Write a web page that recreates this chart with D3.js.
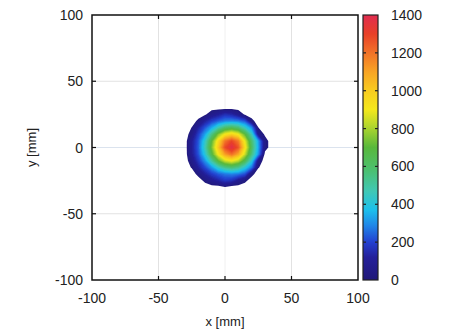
<!DOCTYPE html>
<html>
<head>
<meta charset="utf-8">
<script src="https://cdn.jsdelivr.net/npm/d3@7"></script>
<style>
  body { margin: 0; background: #fff; }
  text { font-family: "Liberation Sans", Arial, sans-serif; fill: #222; }
</style>
</head>
<body>
<script>
const xGrid = [-35, -30, -25, -20, -15, -10, -5, 0, 5, 10, 15, 20, 25, 30, 35, 40];
const yGrid = [35, 30, 25, 20, 15, 10, 5, 0, -5, -10, -15, -20, -25, -30, -35];
const intensity = [
  [0, 0, 0, 0, 0, 0, 0, 0, 0, 0, 0, 0, 0, 0, 0, 0],
  [0, 0, 0, 0, 0, 0, 0, 0, 0, 0, 0, 0, 0, 0, 0, 0],
  [0, 0, 0, 0, 20, 80, 120, 170, 150, 90, 20, 0, 0, 0, 0, 0],
  [0, 0, 0, 45, 130, 200, 250, 290, 300, 285, 235, 50, 0, 0, 0, 0],
  [0, 0, 32, 140, 240, 350, 490, 600, 640, 590, 455, 310, 32, 0, 0, 0],
  [0, 0, 60, 200, 340, 550, 760, 920, 980, 905, 712, 468, 90, 20, 0, 0],
  [0, 0, 115, 240, 440, 710, 969, 1200, 1300, 1190, 895, 596, 336, 60, 0, 0],
  [0, 0, 120, 250, 470, 750, 1019, 1290, 1390, 1270, 947, 628, 349, 60, 0, 0],
  [0, 0, 110, 235, 420, 680, 924, 1120, 1220, 1100, 853, 567, 322, 10, 0, 0],
  [0, 0, 70, 190, 320, 515, 715, 860, 915, 840, 660, 430, 80, 0, 0, 0],
  [0, 0, 35, 130, 220, 320, 450, 550, 590, 540, 415, 280, 35, 0, 0, 0],
  [0, 0, 0, 50, 130, 195, 245, 280, 295, 280, 230, 50, 0, 0, 0, 0],
  [0, 0, 0, 0, 45, 95, 140, 187, 170, 95, 45, 0, 0, 0, 0, 0],
  [0, 0, 0, 0, 0, 0, 0, 25, 0, 0, 0, 0, 0, 0, 0, 0],
  [0, 0, 0, 0, 0, 0, 0, 0, 0, 0, 0, 0, 0, 0, 0, 0]
];
const axisTicks = [-100, -50, 0, 50, 100];
const gridLines = [-50, 0, 50];
const colorTicks = [0, 200, 400, 600, 800, 1000, 1200, 1400];
const xTitle = 'x [mm]', yTitle = 'y [mm]';

const W = 457, H = 332;
const pL = 92, pR = 358, pT = 15, pB = 280;
const cbX = 363, cbW = 15;

// jet-like palette of the colour bar
const palVals = [0, 120, 200, 290, 370, 470, 580, 700, 820, 900, 1000, 1100, 1200, 1300, 1400];
const palCols = ['#201878', '#24209a', '#2440d0', '#2088e8', '#1cc0ec', '#40c8b4', '#4cc070', '#58b83c',
                 '#b8d82c', '#f4e81c', '#f8cc20', '#f8a424', '#f27228', '#e84028', '#e02c50'];
const color = d3.scaleLinear().domain(palVals).range(palCols).clamp(true);

const svg = d3.select('body').append('svg')
  .attr('width', W)
  .attr('height', H);

const xScale = d3.scaleLinear().domain([-100, 100]).range([pL, pR]);
const yScale = d3.scaleLinear().domain([-100, 100]).range([pB, pT]);
const cScale = d3.scaleLinear().domain([0, 1400]).range([pB, pT]);

// light grid
svg.append('g').selectAll('line')
  .data(gridLines).enter().append('line')
  .attr('x1', d => xScale(d)).attr('x2', d => xScale(d))
  .attr('y1', pT).attr('y2', pB)
  .attr('stroke', d => d === 0 ? '#f0f0f0' : '#e2e2e2');
svg.append('g').selectAll('line')
  .data(gridLines).enter().append('line')
  .attr('y1', d => yScale(d)).attr('y2', d => yScale(d))
  .attr('x1', pL).attr('x2', pR)
  .attr('stroke', d => d === 0 ? '#dbe3ee' : '#e2e2e2');

// filled contours
const nx = xGrid.length, ny = yGrid.length;
const flat = [].concat(...intensity);
const gxToMm = d3.scaleLinear().domain([0.5, nx - 0.5]).range([xGrid[0], xGrid[nx - 1]]);
const gyToMm = d3.scaleLinear().domain([0.5, ny - 0.5]).range([yGrid[0], yGrid[ny - 1]]);
const proj = d3.geoTransform({
  point: function(x, y) { this.stream.point(xScale(gxToMm(x)), yScale(gyToMm(y))); }
});
const path = d3.geoPath(proj);
const levels = d3.range(30, 1400, 20);
const contours = d3.contours().size([nx, ny]).thresholds(levels)(flat);

const defs = svg.append('defs');
defs.append('filter').attr('id', 'soft')
  .append('feGaussianBlur').attr('stdDeviation', 0.6);

svg.append('g')
  .attr('filter', 'url(#soft)')
  .selectAll('path')
  .data(contours).enter().append('path')
  .attr('d', path)
  .attr('fill', d => color(d.value));

// frame and inward ticks
svg.append('rect')
  .attr('x', pL).attr('y', pT)
  .attr('width', pR - pL).attr('height', pB - pT)
  .attr('fill', 'none').attr('stroke', '#111').attr('stroke-width', 1.5);

const tk = svg.append('g').attr('stroke', '#111').attr('stroke-width', 1.2);
gridLines.forEach(v => {
  tk.append('line').attr('x1', xScale(v)).attr('x2', xScale(v)).attr('y1', pB).attr('y2', pB - 4);
  tk.append('line').attr('x1', xScale(v)).attr('x2', xScale(v)).attr('y1', pT).attr('y2', pT + 4);
  tk.append('line').attr('y1', yScale(v)).attr('y2', yScale(v)).attr('x1', pL).attr('x2', pL + 4);
  tk.append('line').attr('y1', yScale(v)).attr('y2', yScale(v)).attr('x1', pR).attr('x2', pR - 4);
});

// tick labels
svg.append('g').selectAll('text')
  .data(axisTicks).enter().append('text')
  .attr('x', d => xScale(d))
  .attr('y', pB + 23)
  .attr('text-anchor', 'middle')
  .attr('font-size', 14)
  .text(d => d);
svg.append('g').selectAll('text')
  .data(axisTicks).enter().append('text')
  .attr('x', pL - 9)
  .attr('y', d => yScale(d) + 5)
  .attr('text-anchor', 'end')
  .attr('font-size', 14)
  .text(d => d);

svg.append('text')
  .attr('x', (pL + pR) / 2).attr('y', H - 6)
  .attr('text-anchor', 'middle').attr('font-size', 13)
  .text(xTitle);
svg.append('text')
  .attr('transform', `translate(36, ${(pT + pB) / 2}) rotate(-90)`)
  .attr('text-anchor', 'middle').attr('font-size', 13)
  .text(yTitle);

// colour bar
const grad = defs.append('linearGradient').attr('id', 'cb')
  .attr('x1', 0).attr('y1', 1).attr('x2', 0).attr('y2', 0);
palVals.forEach((v, i) => {
  grad.append('stop').attr('offset', v / 1400).attr('stop-color', palCols[i]);
});
svg.append('rect')
  .attr('x', cbX).attr('y', pT)
  .attr('width', cbW).attr('height', pB - pT)
  .attr('fill', 'url(#cb)')
  .attr('stroke', '#222').attr('stroke-width', 1.2);

const ctk = svg.append('g').attr('stroke', '#222').attr('stroke-width', 1.2);
colorTicks.slice(1, -1).forEach(v => {
  ctk.append('line').attr('x1', cbX).attr('x2', cbX + 3).attr('y1', cScale(v)).attr('y2', cScale(v));
  ctk.append('line').attr('x1', cbX + cbW).attr('x2', cbX + cbW - 3).attr('y1', cScale(v)).attr('y2', cScale(v));
});
svg.append('g').selectAll('text')
  .data(colorTicks).enter().append('text')
  .attr('x', cbX + cbW + 13)
  .attr('y', d => cScale(d) + 5)
  .attr('font-size', 14)
  .text(d => d);
</script>
</body>
</html>
